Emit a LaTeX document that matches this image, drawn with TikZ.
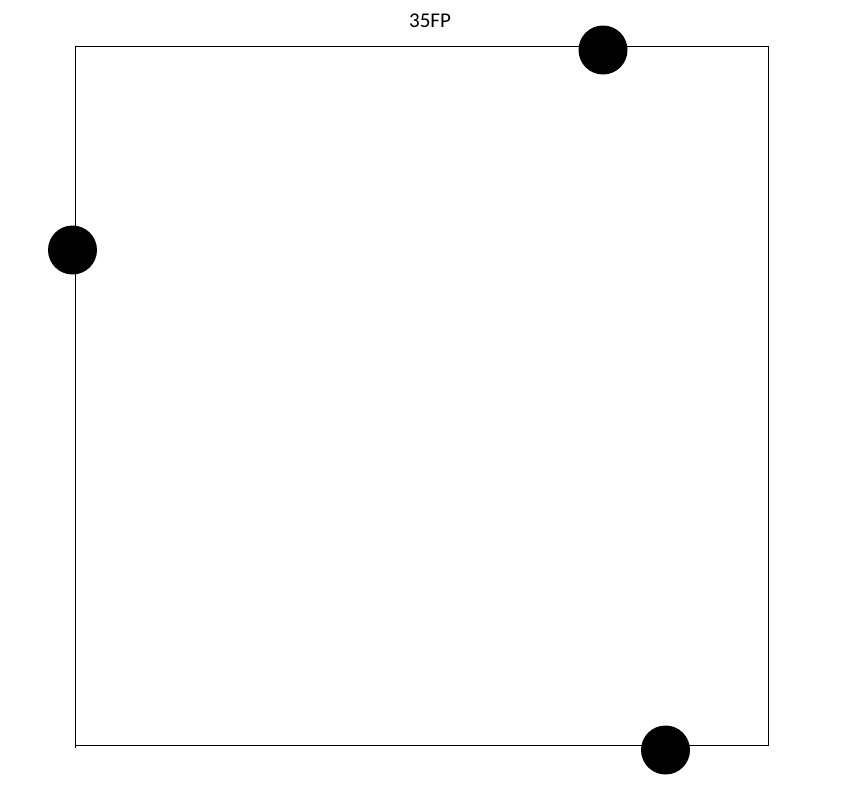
\documentclass[tikz,border=0pt]{standalone}
\usepackage{fontspec}
\setmainfont{Carlito}
\usetikzlibrary{positioning}
\tikzset{pin dot/.style={circle,fill=black,inner sep=0pt,minimum size=49pt}}

\begin{document}
\begin{tikzpicture}[line cap=butt,line join=miter,x=1pt,y=-1pt,line width=1pt]
			\useasboundingbox (0,0) rectangle (860,806);
			% outline of the sheet
			\draw (75,46) -- (768,46) -- (768,745) -- (75,745);
			\draw (75,46) -- (75,748);
			
			\node (title) at (430,21) {\fontsize{21pt}{25pt}\selectfont 35FP};
			
			\node[pin dot] (topdot) at (603,50) {};
			\node[pin dot] (leftdot) at (72.5,250) {};
			\node[pin dot] (bottomdot) at (665.5,750) {};
		\end{tikzpicture}
\end{document}
